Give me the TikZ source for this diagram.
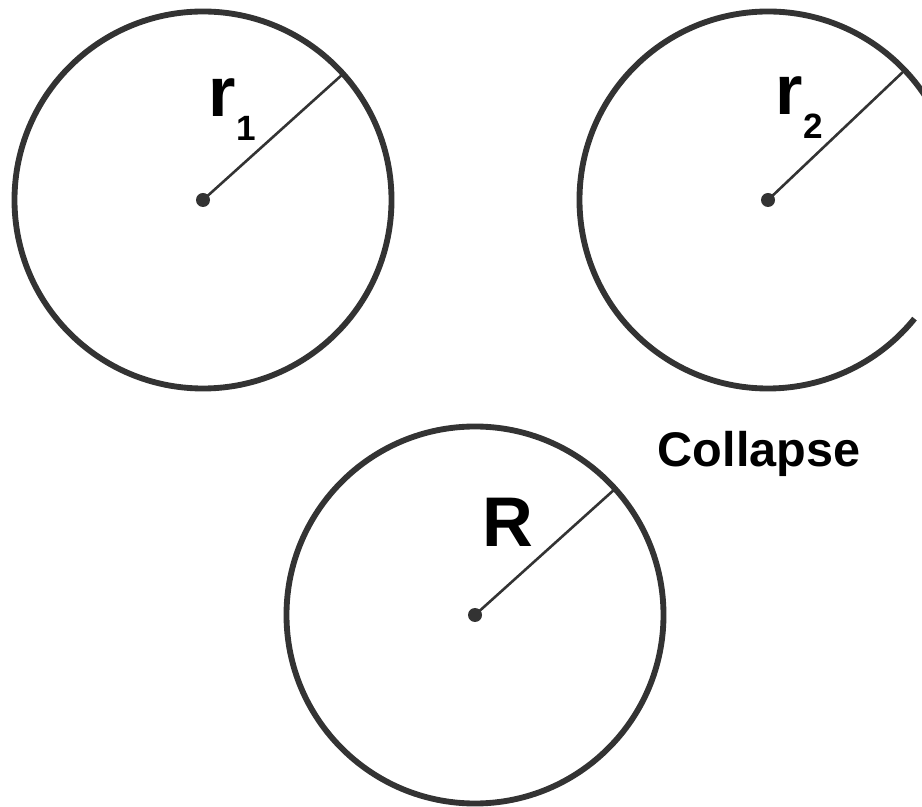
\documentclass[tikz,border=0pt]{standalone}
\usepackage{fontspec}
\setmainfont{Liberation Sans}
\usepackage{xcolor}
\usepackage{tikz}
\usetikzlibrary{positioning}
\definecolor{strokegray}{HTML}{333333}
\newcommand\lowidx[1]{\raisebox{-0.33em}{\fontsize{30}{30}\selectfont #1}}

\begin{document}
\begin{tikzpicture}[x=0.03cm,y=0.03cm,
  ring/.style={circle,draw=strokegray,line width=5pt,minimum size=11.31cm,inner sep=0pt,outer sep=0pt},
  arcline/.style={draw=strokegray,line width=5pt},
  spoke/.style={draw=strokegray,line width=2.2pt},
  hub/.style={circle,fill=strokegray,minimum size=0.42cm,inner sep=0pt},
  lbl/.style={anchor=base west,inner sep=0pt,font=\fontsize{60}{60}\selectfont\bfseries},
  note/.style={anchor=base west,inner sep=0pt,font=\fontsize{41.5}{41.5}\selectfont\bfseries}
]
\useasboundingbox (0,0) rectangle (922,806);
\clip (0,0) rectangle (922,806);

\coordinate (c1) at (203,606);
\coordinate (c2) at (768,606);
\coordinate (c3) at (475,191);

\node[ring] (ring1) at (c1) {};
\node[ring] (ring3) at (c3) {};
\draw[arcline] (c2) ++(-39:5.655cm) arc[start angle=-39,end angle=-345,radius=5.655cm];
\coordinate (tip2) at ([shift={(43.5:5.655cm)}]c2);

\draw[spoke] (c1)--(ring1.42);
\draw[spoke] (c2)--(tip2);
\draw[spoke] (c3)--(ring3.42);

\node[hub] (hub1) at (c1) {};
\node[hub] (hub2) at (c2) {};
\node[hub] (hub3) at (c3) {};

\node[lbl] (lblr1) at (208.5,689) {r\lowidx{1}};
\node[lbl] (lblr2) at (775.5,691) {r\lowidx{2}};
\node[lbl] (lblR) at (482,259) {R};
\node[note] (collapse) at (657.5,339) {Collapse};
\end{tikzpicture}
\end{document}
